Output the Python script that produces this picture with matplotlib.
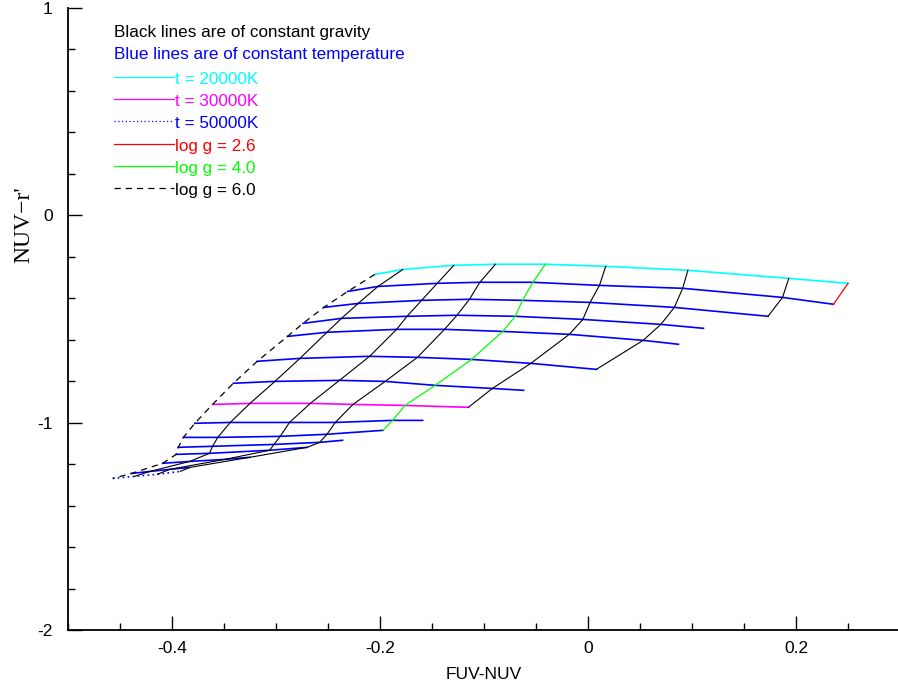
import matplotlib
matplotlib.use("Agg")
import matplotlib.pyplot as plt
from matplotlib.ticker import MultipleLocator

plt.rcParams['font.family'] = ['Liberation Sans', 'DejaVu Sans']
plt.rcParams['axes.unicode_minus'] = False

# model colour tracks, coolest (t = 20000K) first, hottest (t = 50000K) last;
# each list runs from log g = 6.0 towards lower gravity
x_t01 = [-0.205, -0.178, -0.129, -0.089, -0.041, 0.017, 0.096, 0.193, 0.250]
y_t01 = [-0.285, -0.261, -0.241, -0.236, -0.236, -0.246, -0.265, -0.304, -0.328]
x_t02 = [-0.231, -0.202, -0.145, -0.104, -0.053, 0.011, 0.091, 0.187, 0.236]
y_t02 = [-0.367, -0.343, -0.328, -0.323, -0.323, -0.338, -0.352, -0.396, -0.429]
x_t03 = [-0.254, -0.221, -0.160, -0.114, -0.063, 0.002, 0.083, 0.173]
y_t03 = [-0.444, -0.425, -0.410, -0.405, -0.410, -0.420, -0.444, -0.487]
x_t04 = [-0.274, -0.237, -0.174, -0.126, -0.070, -0.005, 0.070, 0.111]
y_t04 = [-0.521, -0.497, -0.487, -0.482, -0.487, -0.502, -0.526, -0.545]
x_t05 = [-0.289, -0.251, -0.184, -0.138, -0.082, -0.018, 0.053, 0.087]
y_t05 = [-0.584, -0.564, -0.550, -0.550, -0.560, -0.574, -0.603, -0.622]
x_t06 = [-0.318, -0.277, -0.210, -0.164, -0.112, -0.055, 0.008]
y_t06 = [-0.704, -0.690, -0.680, -0.685, -0.695, -0.714, -0.743]
x_t07 = [-0.341, -0.301, -0.239, -0.195, -0.147, -0.092, -0.062]
y_t07 = [-0.810, -0.801, -0.796, -0.801, -0.820, -0.835, -0.844]
x_t08 = [-0.361, -0.325, -0.267, -0.226, -0.176, -0.115]
y_t08 = [-0.912, -0.907, -0.907, -0.912, -0.917, -0.926]
x_t09 = [-0.378, -0.344, -0.287, -0.243, -0.188, -0.159]
y_t09 = [-1.003, -0.999, -0.999, -0.999, -0.989, -0.989]
x_t10 = [-0.389, -0.356, -0.296, -0.251, -0.197]
y_t10 = [-1.071, -1.071, -1.066, -1.056, -1.037]
x_t11 = [-0.394, -0.361, -0.302, -0.258, -0.236]
y_t11 = [-1.119, -1.114, -1.105, -1.095, -1.085]
x_t12 = [-0.396, -0.364, -0.306, -0.270]
y_t12 = [-1.153, -1.148, -1.133, -1.119]
x_t13 = [-0.409, -0.383, -0.349, -0.325]
y_t13 = [-1.196, -1.187, -1.177, -1.167]
x_t14 = [-0.439, -0.421, -0.402, -0.383]
y_t14 = [-1.245, -1.235, -1.225, -1.216]
x_t15 = [-0.457, -0.436, -0.414, -0.392]
y_t15 = [-1.269, -1.259, -1.249, -1.235]

tracks = [(x_t01, y_t01), (x_t02, y_t02), (x_t03, y_t03), (x_t04, y_t04),
          (x_t05, y_t05), (x_t06, y_t06), (x_t07, y_t07), (x_t08, y_t08),
          (x_t09, y_t09), (x_t10, y_t10), (x_t11, y_t11), (x_t12, y_t12),
          (x_t13, y_t13), (x_t14, y_t14), (x_t15, y_t15)]

# how many temperature tracks each constant-gravity line runs through
# (log g = 6.0 first, log g = 2.6 last)
gravity_len = [15, 15, 15, 15, 10, 8, 6, 3, 2]

legend_temp = ['t = 20000K', 't = 30000K', 't = 50000K']
legend_grav = ['log g = 2.6', 'log g = 4.0', 'log g = 6.0']

fig = plt.figure(figsize=(8.98, 6.88), dpi=100)
ax = fig.add_axes([0.0757, 0.0843, 0.9266, 0.9041])

# constant temperature lines
for i, (xs, ys) in enumerate(tracks):
    if i == 0:
        ax.plot(xs, ys, color='#00ffff', lw=1.2)
    elif i == 7:
        ax.plot(xs, ys, color='#ff00ff', lw=1.2)
    elif i == len(tracks) - 1:
        ax.plot(xs, ys, color='#0000ff', lw=1.2, linestyle=(0, (1, 2)))
    else:
        ax.plot(xs, ys, color='#0000ff', lw=1.2)

# constant gravity lines
for j, n in enumerate(gravity_len):
    gx = [tracks[i][0][j] for i in range(n)]
    gy = [tracks[i][1][j] for i in range(n)]
    if j == 0:
        ax.plot(gx, gy, color='black', lw=0.9, linestyle=(0, (5, 4)))
    elif j == 4:
        ax.plot(gx, gy, color='#00ff00', lw=0.9)
    elif j == len(gravity_len) - 1:
        ax.plot(gx, gy, color='#ff0000', lw=0.9)
    else:
        ax.plot(gx, gy, color='black', lw=0.8)

ax.set_xlim(-0.5, 0.3)
ax.set_ylim(-2, 1)
ax.spines['top'].set_visible(False)
ax.spines['right'].set_visible(False)
ax.spines['left'].set_linewidth(1.3)
ax.spines['bottom'].set_linewidth(1.3)

ax.xaxis.set_minor_locator(MultipleLocator(0.05))
ax.yaxis.set_minor_locator(MultipleLocator(0.2))
ax.set_xticks([-0.4, -0.2, 0, 0.2])
ax.set_xticklabels(['-0.4', '-0.2', '0', '0.2'])
ax.set_yticks([-2, -1, 0, 1])
ax.set_yticklabels(['-2', '-1', '0', '1'])
ax.tick_params(which='major', direction='in', length=10, width=1, labelsize=12.5)
ax.tick_params(which='minor', direction='in', length=5, width=1)
ax.tick_params(axis='y', pad=11)
ax.tick_params(axis='x', pad=8)

ax.set_xlabel('FUV-NUV', fontsize=12.5, labelpad=8)
ax.set_ylabel("NUV\u2212r'", fontsize=17, family=['Liberation Serif', 'DejaVu Serif'])
ax.yaxis.set_label_coords(-0.040, 0.651)

# key in the upper left corner
tr = ax.transAxes
x0, x1, xt = 0.0553, 0.1274, 0.1286
ytop, dy = 0.9603, 0.0357
fs = 12.3
ax.text(x0, ytop, 'Black lines are of constant gravity', transform=tr, color='black',
        fontsize=fs, va='center')
ax.text(x0, ytop - dy, 'Blue lines are of constant temperature', transform=tr,
        color='#0000ff', fontsize=fs, va='center')
key_styles = [('#00ffff', '-'), ('#ff00ff', '-'), ('#0000ff', (0, (1, 2))),
              ('#ff0000', '-'), ('#00ff00', '-'), ('black', (0, (5, 4)))]
text_colors = ['#00ffff', '#ff00ff', '#0000ff', '#ff0000', '#00ff00', 'black']
for k, label in enumerate(legend_temp + legend_grav):
    yy = ytop - (k + 2) * dy
    col, ls = key_styles[k]
    ax.plot([x0, x1], [yy, yy], transform=tr, color=col, linestyle=ls, lw=0.9,
            clip_on=False)
    ax.text(xt, yy - 0.004, label, transform=tr, color=text_colors[k],
            fontsize=fs, va='center')

fig.savefig('out.png', dpi=100)
